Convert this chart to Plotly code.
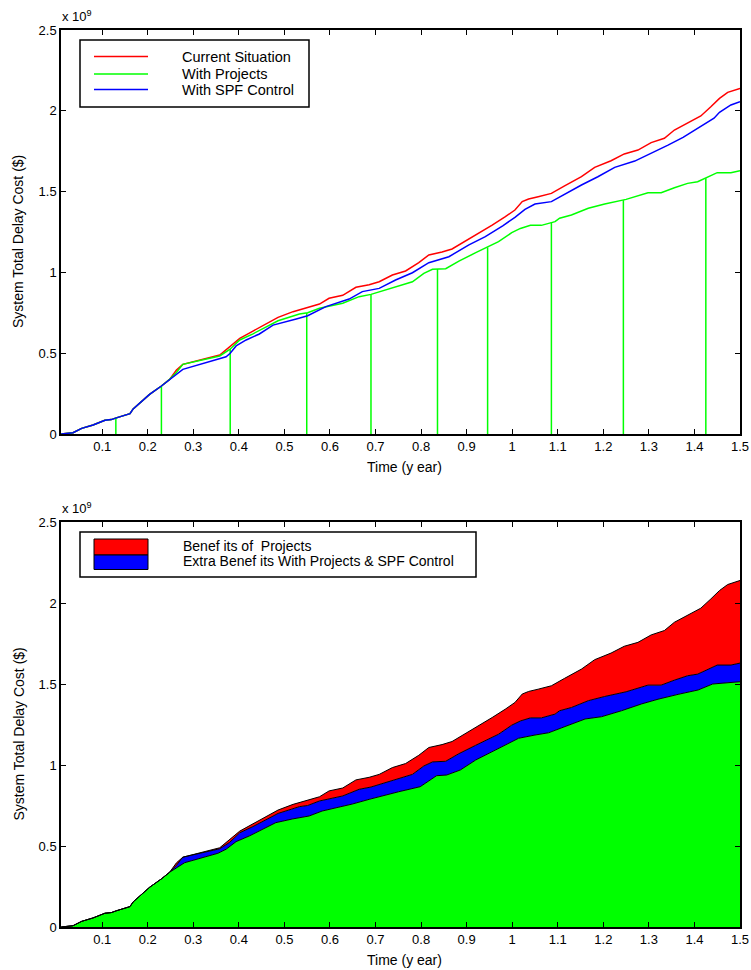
import numpy as np
import plotly.graph_objects as go

# ---------------- data (values in units of 1e9 $) ----------------
early_x = [0.010, 0.036, 0.055, 0.080, 0.106, 0.120, 0.131, 0.161, 0.168, 0.183, 0.204, 0.230, 0.248]
early_v = [0.000, 0.008, 0.035, 0.056, 0.085, 0.089, 0.100, 0.126, 0.155, 0.194, 0.245, 0.297, 0.338]

current_x = [0.263, 0.277, 0.358, 0.380, 0.402, 0.431, 0.486, 0.519, 0.551, 0.577, 0.598, 0.628,
             0.657, 0.686, 0.708, 0.737, 0.766, 0.795, 0.817, 0.846, 0.868, 0.898, 0.927, 0.956,
             0.985, 1.006, 1.022, 1.036, 1.057, 1.086, 1.115, 1.152, 1.181, 1.217, 1.246, 1.276,
             1.305, 1.334, 1.356, 1.385, 1.414, 1.436, 1.455, 1.473, 1.500]
current_v = [0.396, 0.431, 0.489, 0.540, 0.592, 0.637, 0.722, 0.757, 0.782, 0.804, 0.840, 0.858,
             0.908, 0.924, 0.942, 0.984, 1.009, 1.060, 1.108, 1.126, 1.145, 1.194, 1.246, 1.293,
             1.345, 1.386, 1.438, 1.454, 1.468, 1.489, 1.535, 1.592, 1.650, 1.691, 1.733, 1.757,
             1.803, 1.830, 1.881, 1.926, 1.968, 2.025, 2.077, 2.114, 2.139]

projects_x = [0.263, 0.277, 0.358, 0.380, 0.402, 0.431, 0.486, 0.519, 0.533, 0.551, 0.577, 0.628,
              0.664, 0.690, 0.730, 0.781, 0.806, 0.825, 0.854, 0.883, 0.920, 0.946, 0.970, 0.999,
              1.018, 1.040, 1.064, 1.094, 1.104, 1.130, 1.167, 1.203, 1.232, 1.250, 1.298, 1.327,
              1.356, 1.385, 1.407, 1.432, 1.450, 1.480, 1.500]
projects_v = [0.381, 0.431, 0.483, 0.523, 0.582, 0.620, 0.701, 0.732, 0.743, 0.750, 0.778, 0.809,
              0.850, 0.864, 0.897, 0.942, 0.994, 1.019, 1.023, 1.070, 1.122, 1.155, 1.190, 1.246,
              1.272, 1.291, 1.291, 1.314, 1.335, 1.355, 1.397, 1.423, 1.438, 1.452, 1.493, 1.493,
              1.524, 1.551, 1.561, 1.592, 1.617, 1.617, 1.629]

spf_x = [0.277, 0.372, 0.381, 0.394, 0.416, 0.445, 0.475, 0.526, 0.551, 0.591, 0.642, 0.671,
         0.708, 0.744, 0.781, 0.817, 0.861, 0.905, 0.941, 0.980, 1.006, 1.028, 1.050, 1.086,
         1.115, 1.152, 1.188, 1.225, 1.269, 1.305, 1.342, 1.375, 1.414, 1.443, 1.455, 1.480, 1.500]
spf_v = [0.400, 0.478, 0.500, 0.545, 0.582, 0.619, 0.674, 0.712, 0.732, 0.788, 0.835, 0.881,
         0.901, 0.953, 0.998, 1.060, 1.097, 1.170, 1.221, 1.290, 1.341, 1.390, 1.423, 1.438,
         1.485, 1.541, 1.592, 1.650, 1.689, 1.737, 1.788, 1.836, 1.902, 1.954, 1.991, 2.036, 2.056]

combined_x = [0.281, 0.314, 0.354, 0.372, 0.394, 0.423, 0.452, 0.481, 0.518, 0.554, 0.583, 0.620,
              0.649, 0.686, 0.722, 0.751, 0.798, 0.834, 0.856, 0.886, 0.920, 0.970, 1.014, 1.050,
              1.080, 1.109, 1.160, 1.196, 1.240, 1.284, 1.320, 1.364, 1.408, 1.440, 1.466, 1.500]
combined_v = [0.397, 0.422, 0.455, 0.480, 0.527, 0.562, 0.603, 0.644, 0.667, 0.685, 0.716, 0.739,
              0.759, 0.788, 0.815, 0.835, 0.866, 0.934, 0.938, 0.969, 1.031, 1.103, 1.165, 1.185,
              1.199, 1.230, 1.284, 1.298, 1.335, 1.377, 1.406, 1.436, 1.463, 1.500, 1.508, 1.514]

project_times = [0.130, 0.230, 0.381, 0.549, 0.690, 0.836, 0.946, 1.086, 1.244, 1.425]

x_ticks = [0.1, 0.2, 0.3, 0.4, 0.5, 0.6, 0.7, 0.8, 0.9, 1.0, 1.1, 1.2, 1.3, 1.4, 1.5]
x_ticktext = ["0.1", "0.2", "0.3", "0.4", "0.5", "0.6", "0.7", "0.8", "0.9", "1",
              "1.1", "1.2", "1.3", "1.4", "1.5"]
y_ticks = [0, 0.5, 1, 1.5, 2, 2.5]
y_ticktext = ["0", "0.5", "1", "1.5", "2", "2.5"]

legend_top = ["Current Situation", "With Projects", "With SPF Control"]
legend_bottom = ["Benef its of  Projects", "Extra Benef its With Projects & SPF Control"]

# ---------------- build series ----------------
cur_x = early_x + current_x
cur_v = early_v + current_v
prj_x = early_x + projects_x
prj_v = early_v + projects_v
spf_xx = early_x + spf_x
spf_vv = early_v + spf_v
cmb_x = early_x + combined_x
cmb_v = early_v + combined_v

RED, GREEN, BLUE = "#ff0000", "#00ff00", "#0000ff"
FONT = "Liberation Sans, Arial, sans-serif"

W, H = 751, 970
ML, MR, MT, MB = 61, 11, 30, 43
PW = W - ML - MR
PH = H - MT - MB


def fx(px):
    return (px - ML) / PW


def fy(py):
    return (H - MB - py) / PH


fig = go.Figure()

# top panel
fig.add_trace(go.Scatter(x=cur_x, y=cur_v, mode="lines", line=dict(color=RED, width=1.5),
                         xaxis="x", yaxis="y", showlegend=False))
vx, vy = [], []
for t in project_times:
    h = float(np.interp(t, prj_x, prj_v))
    vx += [t, t, None]
    vy += [0, h, None]
fig.add_trace(go.Scatter(x=vx, y=vy, mode="lines", line=dict(color=GREEN, width=1.5),
                         xaxis="x", yaxis="y", showlegend=False))
fig.add_trace(go.Scatter(x=prj_x, y=prj_v, mode="lines", line=dict(color=GREEN, width=1.5),
                         xaxis="x", yaxis="y", showlegend=False))
fig.add_trace(go.Scatter(x=spf_xx, y=spf_vv, mode="lines", line=dict(color=BLUE, width=1.5),
                         xaxis="x", yaxis="y", showlegend=False))

# bottom panel (stacked areas)
fig.add_trace(go.Scatter(x=cmb_x, y=cmb_v, mode="lines", fill="tozeroy", fillcolor=GREEN,
                         line=dict(color="black", width=1), xaxis="x2", yaxis="y2", showlegend=False))
fig.add_trace(go.Scatter(x=prj_x, y=prj_v, mode="lines", fill="tonexty", fillcolor=BLUE,
                         line=dict(color="black", width=1), xaxis="x2", yaxis="y2", showlegend=False))
fig.add_trace(go.Scatter(x=cur_x, y=cur_v, mode="lines", fill="tonexty", fillcolor=RED,
                         line=dict(color="black", width=1), xaxis="x2", yaxis="y2", showlegend=False))

axis_common = dict(range=[0.0096, 1.5], tickvals=x_ticks, ticktext=x_ticktext, ticks="inside",
                   ticklen=5, tickwidth=1, tickcolor="black", showline=True, linecolor="black",
                   linewidth=1.5, mirror="ticks", showgrid=False, zeroline=False, automargin=False,
                   tickfont=dict(family=FONT, size=13, color="black"))
yaxis_common = dict(range=[0, 2.5], tickvals=y_ticks, ticktext=y_ticktext, ticks="inside",
                    ticklen=5, tickwidth=1, tickcolor="black", showline=True, linecolor="black",
                    linewidth=1.5, mirror="ticks", showgrid=False, zeroline=False, automargin=False,
                    tickfont=dict(family=FONT, size=13, color="black"))

top_dom = [fy(434), fy(30)]
bot_dom = [fy(927), fy(522)]

fig.update_layout(
    width=W, height=H,
    margin=dict(l=ML, r=MR, t=MT, b=MB, autoexpand=False),
    paper_bgcolor="white", plot_bgcolor="white",
    xaxis=dict(axis_common, domain=[0, 1], anchor="y"),
    yaxis=dict(yaxis_common, domain=top_dom, anchor="x"),
    xaxis2=dict(axis_common, domain=[0, 1], anchor="y2"),
    yaxis2=dict(yaxis_common, domain=bot_dom, anchor="x2"),
    font=dict(family=FONT, size=13, color="black"),
)

ann = []
shapes = []
for (top_py, bot_py) in [(30, 434), (522, 927)]:
    mid = (top_py + bot_py) / 2
    ann.append(dict(text="Time (y ear)", x=fx(404), y=fy(bot_py + 33), xref="paper", yref="paper",
                    showarrow=False, xanchor="center", yanchor="middle",
                    font=dict(family=FONT, size=14)))
    ann.append(dict(text="System Total Delay Cost ($)", x=fx(18), y=fy(mid + 10), xref="paper", yref="paper",
                    showarrow=False, textangle=-90, xanchor="center", yanchor="middle",
                    font=dict(family=FONT, size=14)))
    ann.append(dict(text="x 10<sup>9</sup>", x=fx(60), y=fy(top_py - 14), xref="paper", yref="paper",
                    showarrow=False, xanchor="left", yanchor="middle",
                    font=dict(family=FONT, size=13)))

# top legend
shapes.append(dict(type="rect", xref="paper", yref="paper", x0=fx(80), x1=fx(309), y0=fy(107), y1=fy(40),
                   line=dict(color="black", width=1.5), fillcolor="white", layer="above"))
for name, col, py in zip(legend_top, [RED, GREEN, BLUE], [56.5, 74, 89.5]):
    shapes.append(dict(type="line", xref="paper", yref="paper", x0=fx(94), x1=fx(148), y0=fy(py), y1=fy(py),
                       line=dict(color=col, width=1.5), layer="above"))
    ann.append(dict(text=name, x=fx(180), y=fy(py), xref="paper", yref="paper", showarrow=False,
                    xanchor="left", yanchor="middle", font=dict(family=FONT, size=14.5)))

# bottom legend
shapes.append(dict(type="rect", xref="paper", yref="paper", x0=fx(80), x1=fx(476), y0=fy(577), y1=fy(532),
                   line=dict(color="black", width=1.5), fillcolor="white", layer="above"))
shapes.append(dict(type="rect", xref="paper", yref="paper", x0=fx(94), x1=fx(148), y0=fy(555), y1=fy(539),
                   line=dict(color="black", width=1), fillcolor=RED, layer="above"))
shapes.append(dict(type="rect", xref="paper", yref="paper", x0=fx(94), x1=fx(148), y0=fy(569.5), y1=fy(555),
                   line=dict(color="black", width=1), fillcolor=BLUE, layer="above"))
for name, py in zip(legend_bottom, [546, 561]):
    ann.append(dict(text=name, x=fx(181), y=fy(py), xref="paper", yref="paper", showarrow=False,
                    xanchor="left", yanchor="middle", font=dict(family=FONT, size=14)))

fig.update_layout(annotations=ann, shapes=shapes)
fig.write_html("out.html")
